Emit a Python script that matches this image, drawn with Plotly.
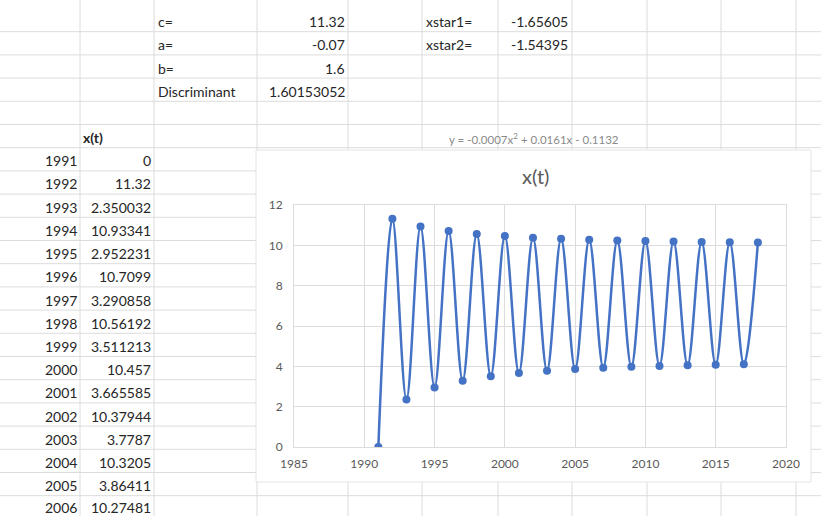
import plotly.graph_objects as go

W, H = 821, 516

# ---- data ----
years = list(range(1991, 2019))
xt = [0, 11.32, 2.350032, 10.93341, 2.952231, 10.7099, 3.290858, 10.56192,
      3.511213, 10.457, 3.665585, 10.37944, 3.7787, 10.3205, 3.86411, 10.27481,
      3.92998, 10.23887, 3.98159, 10.21028, 4.02251, 10.18736, 4.05524, 10.16885,
      4.08162, 10.15383, 4.10298, 10.14159]
table_count = 16  # rows visible in the sheet (1991-2006)
param_labels = ["c=", "a=", "b=", "Discriminant"]
param_values = ["11.32", "-0.07", "1.6", "1.60153052"]
xstar_labels = ["xstar1=", "xstar2="]
xstar_values = ["-1.65605", "-1.54395"]
x_ticks = [1985, 1990, 1995, 2000, 2005, 2010, 2015, 2020]
y_ticks = [0, 2, 4, 6, 8, 10, 12]
chart_title = "x(t)"
column_header = "x(t)"
trend_text = "y = -0.0007x<sup>2</sup> + 0.0161x - 0.1132"

# ---- helpers (pixel -> paper) ----
def px(x):
    return x / W

def py(y):
    return 1 - y / H

FONT = "Lato"
TXT = "#262626"
GRID = "#dcdcdc"

shapes = []
annotations = []

# spreadsheet gridlines
col_lines = [80, 154, 257, 348, 422, 498, 572, 647, 721, 796]
ROW0, ROWH = 8.5, 23.2
row_lines = [ROW0 + ROWH * k for k in range(1, 22)]
for cx in col_lines:
    shapes.append(dict(type="line", xref="paper", yref="paper", layer="below",
                       x0=px(cx), x1=px(cx), y0=0, y1=1,
                       line=dict(color=GRID, width=1)))
for ry in row_lines:
    shapes.append(dict(type="line", xref="paper", yref="paper", layer="below",
                       x0=0, x1=1, y0=py(ry), y1=py(ry),
                       line=dict(color=GRID, width=1)))

# chart box covering the sheet
shapes.append(dict(type="rect", xref="paper", yref="paper", layer="below",
                   x0=px(256), x1=px(811), y0=py(482), y1=py(150),
                   fillcolor="white", line=dict(color="#e4e4e4", width=1)))

def row_center(i):
    return ROW0 + ROWH * i + ROWH / 2 + 1.5

def cell_text(text, x, row, anchor, bold=False, size=14, color=TXT, dy=0):
    annotations.append(dict(
        text=("<b>%s</b>" % text) if bold else text,
        xref="paper", yref="paper", x=px(x), y=py(row_center(row) + dy),
        xanchor=anchor, yanchor="middle", showarrow=False,
        font=dict(family=FONT, size=size, color=color)))

for i, (lab, val) in enumerate(zip(param_labels, param_values)):
    cell_text(lab, 156, i, "left")
    cell_text(val, 347, i, "right")
for i, (lab, val) in enumerate(zip(xstar_labels, xstar_values)):
    cell_text(lab, 424, i, "left")
    cell_text(val, 570, i, "right")

cell_text(column_header, 81, 5, "left", bold=True)
for i in range(table_count):
    last = (i == table_count - 1)
    cell_text(str(years[i]), 79, 6 + i, "right", dy=-1.5 if last else 0)
    cell_text(str(xt[i]), 153, 6 + i, "right", dy=-1.5 if last else 0)

# trendline label and chart title
annotations.append(dict(text=trend_text, xref="paper", yref="paper",
                        x=px(534), y=py(138), xanchor="center", yanchor="middle",
                        showarrow=False,
                        font=dict(family=FONT, size=11.5, color="#8a8a8a")))
annotations.append(dict(text=chart_title, xref="paper", yref="paper",
                        x=px(535), y=py(176), xanchor="center", yanchor="middle",
                        showarrow=False,
                        font=dict(family=FONT, size=20, color="#595959")))

fig = go.Figure()
fig.add_trace(go.Scatter(
    x=years, y=xt, mode="lines+markers",
    line=dict(color="#4472C4", width=2.5, shape="spline", smoothing=1),
    marker=dict(color="#4472C4", size=8),
    showlegend=False, hoverinfo="skip"))

axis_common = dict(showgrid=True, gridcolor=GRID, gridwidth=1, zeroline=False,
                   showline=True, mirror=True, linecolor=GRID, linewidth=1,
                   ticks="", tickfont=dict(family=FONT, size=12, color="#595959"),
                   fixedrange=True, automargin=False)

fig.update_layout(
    width=W, height=H,
    margin=dict(l=0, r=0, t=0, b=0, pad=0, autoexpand=False),
    paper_bgcolor="white", plot_bgcolor="white",
    xaxis=dict(domain=[px(294), px(786)], range=[1985, 2020],
               tickvals=x_ticks, ticklabelstandoff=6, **axis_common),
    yaxis=dict(domain=[py(447), py(205)], range=[0, 12],
               tickvals=y_ticks, ticklabelstandoff=8, **axis_common),
    shapes=shapes, annotations=annotations,
)

fig.write_html("out.html")
